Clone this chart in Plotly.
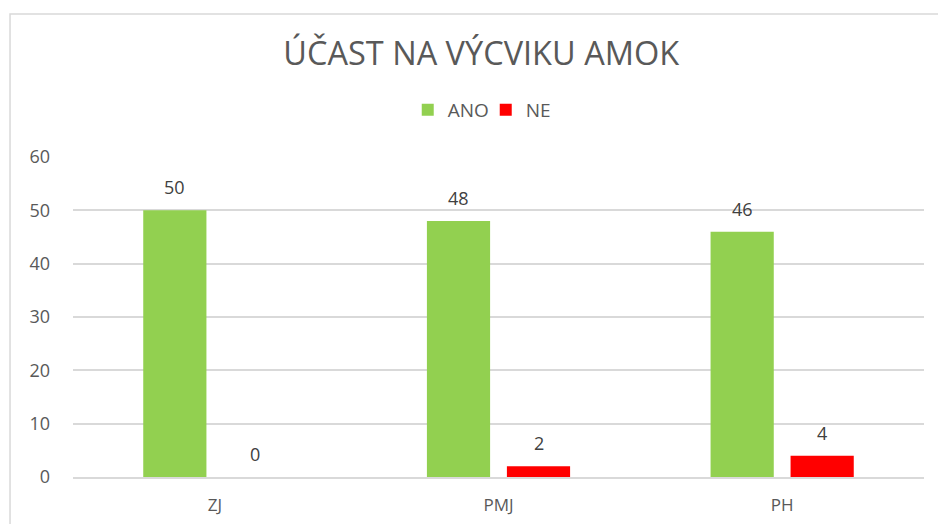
import plotly.graph_objects as go

# Data
kategorie = ["ZJ", "PMJ", "PH"]
ano = [50, 48, 46]
ne = [0, 2, 4]

GREEN = "#92d050"
RED = "#ff0000"
TEXT = "#595959"
GRID = "#d9d9d9"
FONT = "Open Sans"

fig = go.Figure()
fig.add_trace(go.Bar(x=kategorie, y=ano, name="ANO", marker_color=GREEN, marker_line_width=0))
fig.add_trace(go.Bar(x=kategorie, y=ne, name="NE", marker_color=RED, marker_line_width=0))

# Data labels above bars (offset left/right for the grouped bars)
annotations = []
for vals, shift in ((ano, -40), (ne, 40)):
    for cat, v in zip(kategorie, vals):
        annotations.append(dict(
            x=cat, y=v, xref="x", yref="y", text=str(v), showarrow=False,
            xshift=shift, yshift=9, yanchor="bottom",
            font=dict(family=FONT, size=18, color="#404040"),
        ))

fig.update_layout(
    width=938,
    height=524,
    margin=dict(l=73, r=14, t=157, b=47, autoexpand=False),
    paper_bgcolor="white",
    plot_bgcolor="white",
    barmode="group",
    bargap=0.436,
    bargroupgap=0.21,
    title=dict(
        text="ÚČAST NA VÝCVIKU AMOK",
        x=0.513, xanchor="center", y=0.897, yanchor="middle",
        font=dict(family=FONT, size=32.5, color=TEXT),
    ),
    legend=dict(
        orientation="h", x=0.485, xanchor="center", y=1.147, yanchor="middle",
        font=dict(family=FONT, size=19, color=TEXT),
        itemwidth=30, entrywidth=33, entrywidthmode="pixels",
    ),
    annotations=annotations,
    shapes=[dict(
        type="rect", xref="paper", yref="paper",
        x0=-0.074, x1=1.2, y0=-0.5, y1=1.447,
        line=dict(color=GRID, width=1.5), fillcolor="rgba(0,0,0,0)", layer="below",
    )],
    showlegend=True,
)
fig.update_yaxes(
    range=[0, 60], dtick=10, showgrid=True, gridcolor=GRID, gridwidth=1.5,
    zeroline=False, showline=False, ticks="", ticklabelstandoff=22, automargin=False,
    tickfont=dict(family=FONT, size=18, color=TEXT),
)
fig.update_xaxes(
    showline=True, linecolor=GRID, linewidth=1.5, ticks="", automargin=False,
    tickfont=dict(family=FONT, size=17, color=TEXT), ticklabelstandoff=12,
)

# drop the default page margin so the figure fills the window exactly
fig.write_html(
    "out.html",
    config={"displayModeBar": False},
    post_script="document.body.style.margin='0';document.body.style.overflow='hidden';",
)
